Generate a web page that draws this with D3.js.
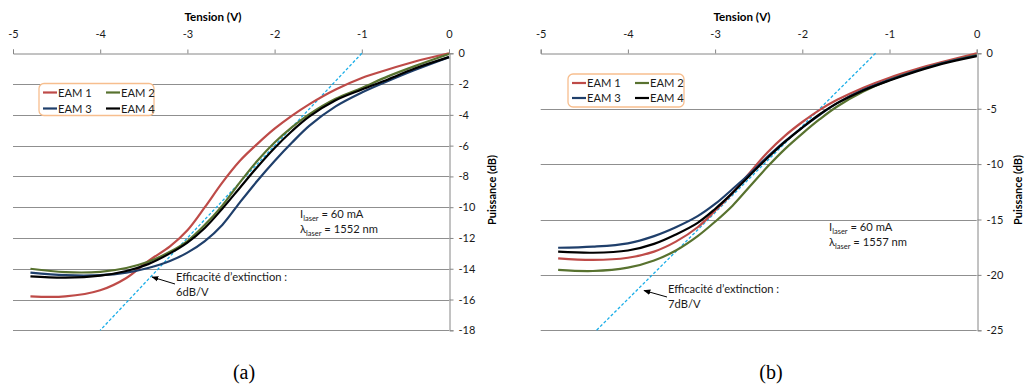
<!DOCTYPE html>
<html><head><meta charset="utf-8">
<script src="https://cdn.jsdelivr.net/npm/d3@7"></script>
<style>
body{margin:0;background:#fff;}
svg text{font-family:Lato,"Open Sans",sans-serif;}
</style></head>
<body><svg id="c" width="1027" height="385"></svg>
<script>
// ---------- data ----------
const voltages = [-4.8,-4.4,-4.0,-3.7,-3.45,-3.2,-3.0,-2.8,-2.6,-2.4,-2.2,-2.0,-1.8,-1.6,-1.3,-1.0,-0.7,-0.4,0];
const seriesNames = ["EAM 1","EAM 2","EAM 3","EAM 4"];
const xTicks = [-5,-4,-3,-2,-1,0];
// chart (a) : 1552 nm
const eam1A = [-15.8,-15.8,-15.4,-14.6,-13.5,-12.55,-11.5,-10.0,-8.4,-7.0,-5.9,-4.9,-4.05,-3.3,-2.35,-1.6,-1.05,-0.55,0];
const eam2A = [-14.0,-14.22,-14.2,-13.95,-13.55,-12.9,-12.2,-11.15,-9.9,-8.4,-7.0,-5.8,-4.8,-3.95,-2.95,-2.25,-1.5,-0.85,-0.05];
const eam3A = [-14.25,-14.42,-14.42,-14.25,-13.95,-13.5,-12.95,-12.2,-11.15,-9.7,-8.3,-7.0,-5.8,-4.7,-3.45,-2.55,-1.8,-1.1,-0.25];
const eam4A = [-14.5,-14.58,-14.45,-14.15,-13.7,-13.0,-12.3,-11.35,-10.1,-8.75,-7.4,-6.15,-5.05,-4.1,-3.05,-2.35,-1.7,-1.0,-0.25];
const tangentA = [[-1,0],[-4,-18]];
const yTicksA = [0,-2,-4,-6,-8,-10,-12,-14,-16,-18];
// chart (b) : 1557 nm
const eam1B = [-18.5,-18.65,-18.45,-17.9,-17.0,-15.7,-14.2,-12.6,-10.75,-8.95,-7.45,-6.2,-5.1,-4.2,-3.1,-2.2,-1.45,-0.8,0];
const eam2B = [-19.55,-19.65,-19.35,-18.7,-17.8,-16.5,-15.2,-13.75,-12.0,-10.25,-8.65,-7.25,-5.95,-4.8,-3.45,-2.4,-1.6,-0.9,-0.15];
const eam3B = [-17.55,-17.45,-17.15,-16.5,-15.7,-14.7,-13.6,-12.25,-10.85,-9.35,-7.95,-6.7,-5.55,-4.5,-3.3,-2.4,-1.6,-0.9,-0.2];
const eam4B = [-17.9,-18.0,-17.8,-17.2,-16.35,-15.3,-14.05,-12.6,-11.0,-9.45,-8.0,-6.7,-5.5,-4.5,-3.35,-2.45,-1.65,-0.95,-0.25];
const tangentB = [[-1.16,0],[-4.36,-25]];
const yTicksB = [0,-5,-10,-15,-20,-25];

const colors = ["#BE4B48","#58722F","#1F3F6B","#000000"];

const svg = d3.select("#c");
svg.append("defs").append("marker").attr("id","arr").attr("viewBox","0 0 10 10")
  .attr("refX",9).attr("refY",5).attr("markerWidth",7).attr("markerHeight",7).attr("orient","auto")
  .append("path").attr("d","M0,1 L10,5 L0,9 z").attr("fill","#000");

const FS = "11.2px";

function drawChart(o){
  const g = svg.append("g");
  const x = d3.scaleLinear().domain([-5,0]).range([o.x0,o.x1]);
  const y = d3.scaleLinear().domain([o.ymin,0]).range([o.y1,o.y0]);
  // gridlines
  g.selectAll(".grid").data(o.yTicks.filter(d=>d!==0)).join("line")
    .attr("x1",o.x0).attr("x2",o.x1).attr("y1",d=>Math.round(y(d))+0.5).attr("y2",d=>Math.round(y(d))+0.5)
    .attr("stroke","#8f8f8f").attr("stroke-width",1);
  // x axis (top)
  const xa = g.append("g").attr("transform",`translate(0,${Math.round(y(0))+0.5})`)
    .call(d3.axisTop(x).tickValues(xTicks).tickSize(4).tickPadding(12).tickFormat(d3.format("d")));
  // y axis (right)
  const ya = g.append("g").attr("transform",`translate(${Math.round(x(0))+0.5},0)`)
    .call(d3.axisRight(y).tickValues(o.yTicks).tickSize(4).tickPadding(5).tickFormat(d3.format("d")));
  [xa,ya].forEach(a=>{
    a.select(".domain").attr("stroke","#868686");
    a.selectAll(".tick line").attr("stroke","#868686");
    a.selectAll(".tick text").attr("fill","#1a1a1a").style("font-size","11px").style("font-family","Lato");
  });
  xa.selectAll(".tick text").text(d=>d===0?"0":"-"+Math.abs(d));
  ya.selectAll(".tick text").text(d=>d===0?"0":"-"+Math.abs(d));
  // titles
  g.append("text").attr("x",o.titleX).attr("y",21).attr("text-anchor","middle")
    .style("font-size","11.6px").style("font-weight","bold").attr("fill","#000").text("Tension (V)");
  g.append("text").attr("transform",`translate(${o.yTitleX},190) rotate(-90)`).attr("text-anchor","middle")
    .style("font-size","11px").style("font-weight","bold").attr("fill","#000").text("Puissance (dB)");
  // tangent
  g.append("line").attr("x1",x(o.tangent[0][0])).attr("y1",y(o.tangent[0][1]))
    .attr("x2",x(o.tangent[1][0])).attr("y2",y(o.tangent[1][1]))
    .attr("stroke","#1AAEE8").attr("stroke-width",1.3).attr("stroke-dasharray","3,2");
  // series
  const line = d3.line().x((d,i)=>x(voltages[i])).y(d=>y(d)).curve(d3.curveCatmullRom.alpha(0.5));
  o.series.forEach((s,i)=>{
    g.append("path").attr("d",line(s)).attr("fill","none").attr("stroke",colors[i]).attr("stroke-width",2.2);
  });
  // legend
  const L = o.legend;
  g.append("rect").attr("x",L.x).attr("y",L.y).attr("width",L.w).attr("height",L.h).attr("rx",5)
    .attr("fill","#fff").attr("stroke","#F7BE8E").attr("stroke-width",1.3);
  seriesNames.forEach((n,i)=>{
    const cx = L.x + 4 + (i%2)*L.colW, cy = L.y + 9 + Math.floor(i/2)*L.rowH;
    g.append("line").attr("x1",cx).attr("x2",cx+14).attr("y1",cy).attr("y2",cy).attr("stroke",colors[i]).attr("stroke-width",2.2);
    g.append("text").attr("x",cx+15).attr("y",cy+4).style("font-size",FS).attr("fill","#1a1a1a").text(n);
  });
  // laser info
  const t1 = g.append("text").attr("x",o.infoX).attr("y",o.infoY).style("font-size",FS).attr("fill","#1a1a1a");
  t1.append("tspan").text("I");
  t1.append("tspan").attr("dy",3).style("font-size","7.5px").text("laser");
  t1.append("tspan").attr("dy",-3).text(" = 60 mA");
  const t2 = g.append("text").attr("x",o.infoX).attr("y",o.infoY+15).style("font-size",FS).attr("fill","#1a1a1a");
  t2.append("tspan").text("λ");
  t2.append("tspan").attr("dy",3).style("font-size","7.5px").text("laser");
  t2.append("tspan").attr("dy",-3).text(" = " + o.lambda);
  // extinction annotation
  g.append("text").attr("x",o.annX).attr("y",o.annY).style("font-size",FS).attr("fill","#1a1a1a").text("Efficacité d’extinction :");
  g.append("text").attr("x",o.annX).attr("y",o.annY+15).style("font-size",FS).attr("fill","#1a1a1a").text(o.eff);
  g.append("line").attr("x1",o.arrow[0]).attr("y1",o.arrow[1]).attr("x2",o.arrow[2]).attr("y2",o.arrow[3])
    .attr("stroke","#000").attr("stroke-width",1).attr("marker-end","url(#arr)");
  // panel label
  g.append("text").attr("x",o.labelX).attr("y",379).attr("text-anchor","middle")
    .style("font-family","'Liberation Serif',serif").style("font-size","20px").attr("fill","#000").text(o.label);
}

drawChart({x0:13,x1:449,y0:53.3,y1:330.3,ymin:-18,yTicks:yTicksA,
  series:[eam1A,eam2A,eam3A,eam4A],tangent:tangentA,titleX:213,yTitleX:496,
  legend:{x:39,y:83.5,w:115,h:32,colW:63,rowH:16},
  infoX:300,infoY:218,lambda:"1552 nm",annX:176,annY:281,eff:"6dB/V",arrow:[175,284,152,277],label:"(a)",labelX:244});
drawChart({x0:540.7,x1:976.7,y0:53.3,y1:330.3,ymin:-25,yTicks:yTicksB,
  series:[eam1B,eam2B,eam3B,eam4B],tangent:tangentB,titleX:742,yTitleX:1022,
  legend:{x:568,y:74,w:116,h:33,colW:63,rowH:15},
  infoX:829,infoY:231,lambda:"1557 nm",annX:668,annY:293,eff:"7dB/V",arrow:[667,297,644,290.5],label:"(b)",labelX:771});
</script></body></html>
